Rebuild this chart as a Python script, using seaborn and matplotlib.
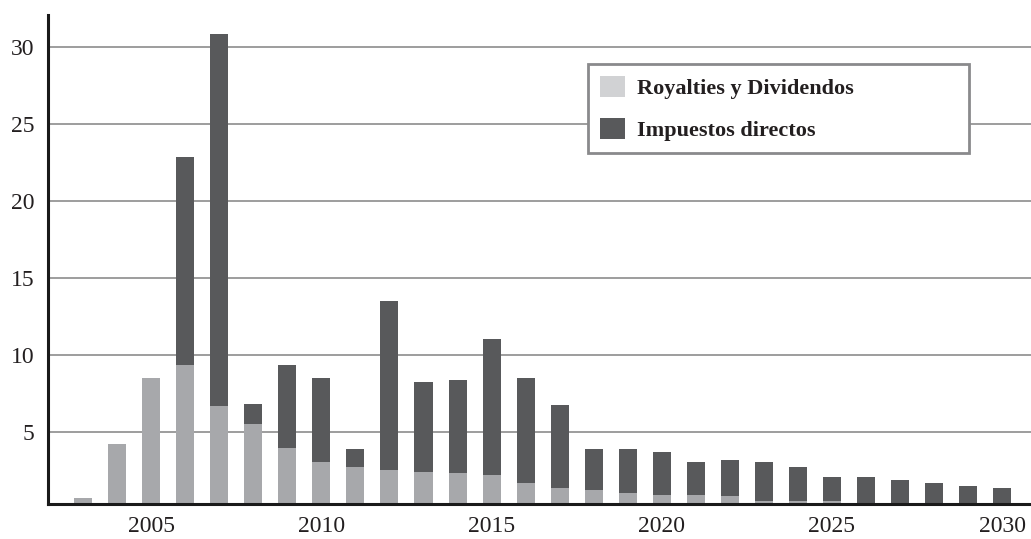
import matplotlib
matplotlib.use("Agg")
import matplotlib.pyplot as plt
from matplotlib.patches import Patch
import seaborn as sns

# years and stacked components
years = list(range(2003, 2031))
royalties = [0.74, 4.24, 8.52, 9.37, 6.72, 5.56, 3.96, 3.08, 2.76, 2.56,
             2.43, 2.36, 2.23, 1.72, 1.39, 1.26, 1.07, 0.94, 0.94, 0.88,
             0.55, 0.55, 0.55, 0.3, 0.3, 0.3, 0.3, 0.3]
totals = [0.74, 4.24, 8.52, 22.86, 30.85, 6.85, 9.37, 8.52, 3.93, 13.5,
          8.26, 8.38, 11.04, 8.51, 6.77, 3.92, 3.92, 3.72, 3.08, 3.21,
          3.08, 2.75, 2.1, 2.1, 1.91, 1.72, 1.52, 1.39]
labels = ["Royalties y Dividendos", "Impuestos directos"]
yticks = [5, 10, 15, 20, 25, 30]
xticks = [2005, 2010, 2015, 2020, 2025, 2030]

light = "#a7a8ab"
light_legend = "#d1d2d4"
dark = "#58595b"

sns.set_style("white")
plt.rcParams["font.family"] = ["Liberation Serif", "DejaVu Serif"]

fig = plt.figure(figsize=(10.31, 5.39), dpi=100)
ax = fig.add_axes([0.047, 0.065, 0.953, 0.907])

# dark = total height, light drawn over it from the bottom
sns.barplot(x=years, y=totals, native_scale=True, width=0.53, color=dark,
            saturation=1, linewidth=0, ax=ax)
sns.barplot(x=years, y=royalties, native_scale=True, width=0.53, color=light,
            saturation=1, linewidth=0, ax=ax)

ax.set_xlim(2001.98, 2030.85)
ax.set_ylim(0.35, 32.1)
ax.set_yticks(yticks)
ax.set_xticks(xticks)
ax.set_xticklabels([str(x) for x in xticks])
ax.set_axisbelow(True)
ax.yaxis.grid(True, color="#8c8c8c", linewidth=1.2)
ax.xaxis.grid(False)

for side in ["top", "right"]:
    ax.spines[side].set_visible(False)
for side in ["left", "bottom"]:
    ax.spines[side].set_color("#1a1a1a")
    ax.spines[side].set_linewidth(2.2)

ax.tick_params(axis="x", direction="out", length=7, width=2.5, color="#1a1a1a",
               labelsize=17, labelcolor="#231f20", pad=2)
ax.tick_params(axis="y", direction="out", length=3, width=1, color="#8c8c8c",
               labelsize=17, labelcolor="#231f20", pad=7)
ax.set_xlabel("")
ax.set_ylabel("")

handles = [Patch(facecolor=light_legend, edgecolor="none"),
           Patch(facecolor=dark, edgecolor="none")]
leg = ax.legend(handles, labels, loc="upper left",
                bbox_to_anchor=(0.549, 0.718, 0.388, 0.182), mode="expand",
                prop={"weight": "bold", "size": 16}, handlelength=1.1,
                handleheight=1.05, handletextpad=0.55, labelspacing=0.85,
                borderpad=0.55, fancybox=False, framealpha=1, borderaxespad=0)
leg.get_frame().set_edgecolor("#8a8a8c")
leg.get_frame().set_linewidth(2)
for t in leg.get_texts():
    t.set_color("#231f20")

fig.savefig("out.png", dpi=100)
